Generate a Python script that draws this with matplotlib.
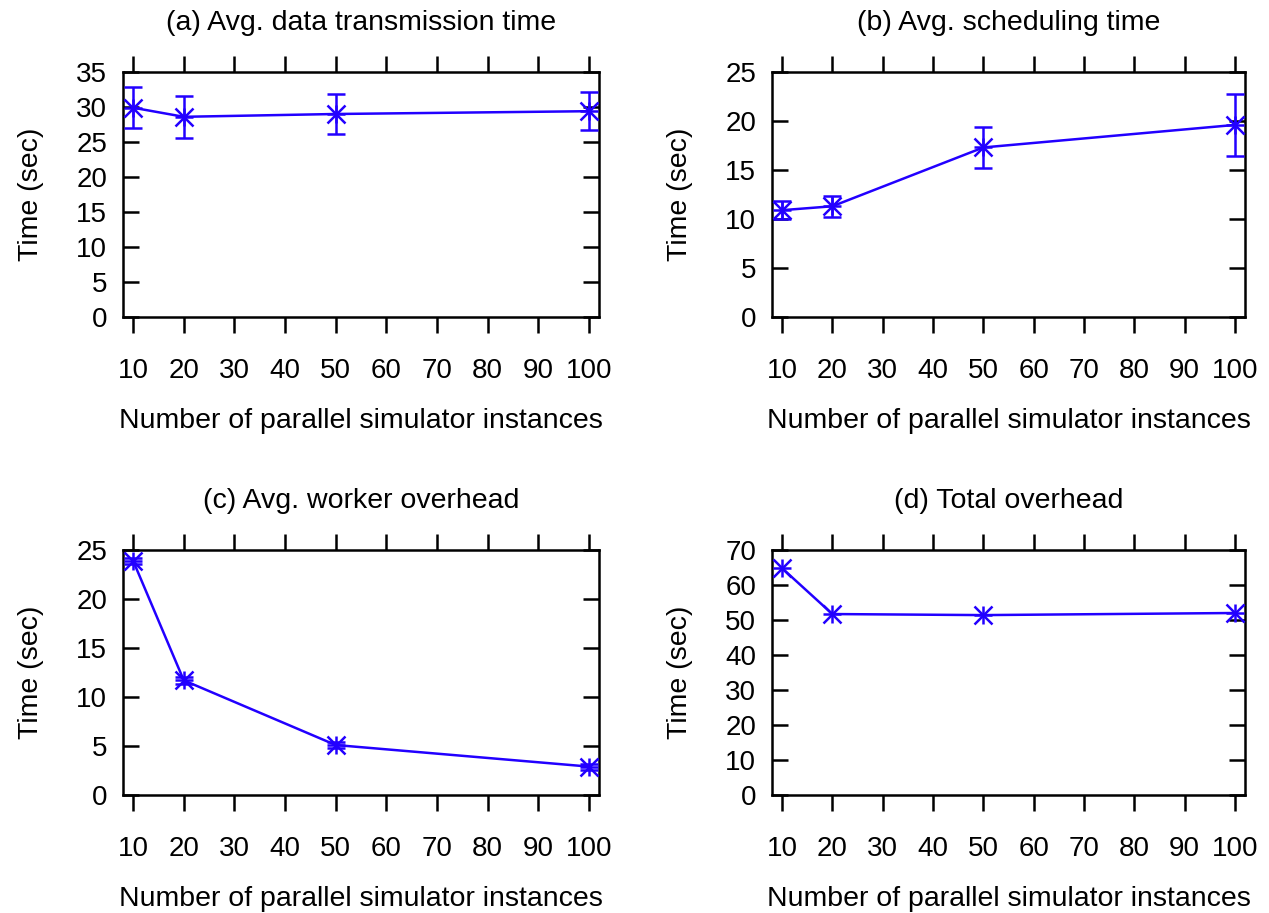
import matplotlib
matplotlib.use("Agg")
import matplotlib.pyplot as plt

plt.rcParams['font.family'] = ['Liberation Sans', 'DejaVu Sans']

instances = [10, 20, 50, 100]

trans_time = [29.9, 28.6, 29.0, 29.4]
trans_err = [2.9, 3.0, 2.8, 2.75]

sched_time = [10.9, 11.3, 17.3, 19.6]
sched_err = [0.9, 1.05, 2.1, 3.2]

worker_time = [23.9, 11.7, 5.1, 2.9]
worker_err = [0.3, 0.35, 0.3, 0.3]

total_time = [64.8, 51.7, 51.4, 52.0]

titles = ["(a) Avg. data transmission time", "(b) Avg. scheduling time",
          "(c) Avg. worker overhead", "(d) Total overhead"]
y_limits = [35, 25, 25, 70]
y_steps = [5, 5, 5, 10]
x_ticks = [10, 20, 30, 40, 50, 60, 70, 80, 90, 100]

color = '#2200ff'
FS_LABEL = 20.5
FS_TICK = 20
LW = 1.8

fig = plt.figure(figsize=(12.69, 9.13), dpi=100)
W, H = 1269, 913
boxes = [(123, 72, 599, 317), (772, 72, 1245, 317),
         (123, 550, 599, 795), (772, 550, 1245, 795)]
series = [(trans_time, trans_err), (sched_time, sched_err),
          (worker_time, worker_err), (total_time, None)]

for i, (l, t, r, b) in enumerate(boxes):
    ax = fig.add_axes([l / W, 1 - b / H, (r - l) / W, (b - t) / H])
    y, e = series[i]
    if e is not None:
        ax.errorbar(instances, y, yerr=e, color=color, lw=LW, elinewidth=LW,
                    capsize=6.5, capthick=LW, fmt='none', zorder=3)
    ax.plot(instances, y, color=color, lw=LW, zorder=3)
    ax.plot(instances, y, linestyle='none', marker='x', ms=13, mew=LW,
            color=color, zorder=4, clip_on=False)
    ax.plot(instances, y, linestyle='none', marker='+', ms=13, mew=LW,
            color=color, zorder=4, clip_on=False)
    ax.set_xlim(8, 102)
    ax.set_ylim(0, y_limits[i])
    ax.set_xticks(x_ticks)
    ax.set_yticks(range(0, y_limits[i] + 1, y_steps[i]))
    ax.tick_params(axis='x', direction='out', top=True, length=11.5, width=1.8,
                   pad=18, labelsize=FS_TICK)
    ax.tick_params(axis='y', direction='in', right=True, length=11.5, width=1.8,
                   pad=11.5, labelsize=FS_TICK)
    for sp in ax.spines.values():
        sp.set_linewidth(1.8)
    ax.set_title(titles[i], fontsize=FS_LABEL, pad=30)
    ax.set_xlabel("Number of parallel simulator instances", fontsize=FS_LABEL,
                  labelpad=17)
    ax.set_ylabel("Time (sec)", fontsize=FS_LABEL, labelpad=23)

fig.savefig("out.png", dpi=100)
